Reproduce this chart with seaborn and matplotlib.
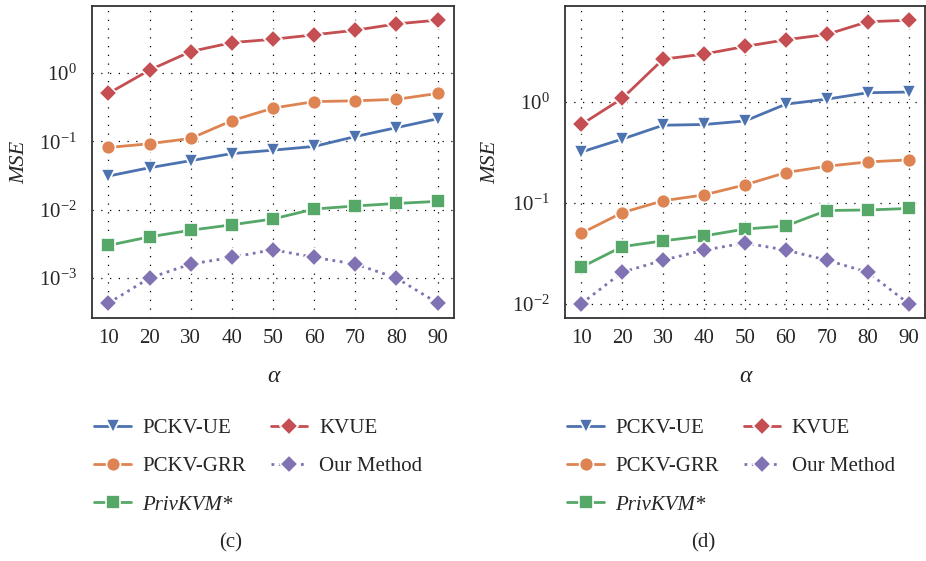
import numpy as np
import pandas as pd
import matplotlib
matplotlib.use('Agg')
import matplotlib.pyplot as plt
import seaborn as sns
from matplotlib.ticker import LogLocator, NullLocator

# alpha values on the x axis
alpha = [10, 20, 30, 40, 50, 60, 70, 80, 90]

# panel (c)
c_pckv_ue = [0.031, 0.041, 0.052, 0.066, 0.074, 0.084, 0.117, 0.158, 0.213]
c_pckv_grr = [0.081, 0.092, 0.11, 0.20, 0.305, 0.38, 0.39, 0.41, 0.50]
c_privkvm = [0.0030, 0.0040, 0.0050, 0.0060, 0.0073, 0.0102, 0.0113, 0.0123, 0.0132]
c_kvue = [0.50, 1.1, 2.05, 2.77, 3.1, 3.6, 4.2, 5.2, 5.9]
c_ours = [0.00043, 0.0010, 0.0016, 0.0020, 0.0026, 0.0020, 0.0016, 0.0010, 0.00043]

# panel (d)
d_pckv_ue = [0.32, 0.43, 0.59, 0.60, 0.65, 0.955, 1.07, 1.24, 1.26]
d_pckv_grr = [0.050, 0.080, 0.105, 0.120, 0.151, 0.20, 0.231, 0.255, 0.267]
d_privkvm = [0.023, 0.0368, 0.042, 0.047, 0.055, 0.059, 0.084, 0.085, 0.088]
d_kvue = [0.60, 1.09, 2.67, 3.0, 3.57, 4.16, 4.7, 6.28, 6.5]
d_ours = [0.010, 0.0205, 0.027, 0.034, 0.040, 0.034, 0.027, 0.0205, 0.010]

labels = ['PCKV-UE', 'PCKV-GRR', 'PrivKVM*', 'KVUE', 'Our Method']

sns.set_style('white')
plt.rcParams['font.family'] = ['Liberation Serif', 'DejaVu Serif']
plt.rcParams['mathtext.fontset'] = 'custom'
plt.rcParams['mathtext.rm'] = 'Liberation Serif'
plt.rcParams['mathtext.it'] = 'Liberation Serif:italic'

pal = sns.color_palette('deep')
styles = {
    'PCKV-UE': dict(color=pal[0], marker='v', markersize=10, linestyle='-'),
    'PCKV-GRR': dict(color=pal[1], marker='o', markersize=10, linestyle='-'),
    'PrivKVM*': dict(color=pal[2], marker='s', markersize=9.5, linestyle='-'),
    'KVUE': dict(color=pal[3], marker='D', markersize=9.5, linestyle='-'),
    'Our Method': dict(color=pal[4], marker='D', markersize=9.5, linestyle=':'),
}

W, H = 926, 561
fig = plt.figure(figsize=(W / 100, H / 100), dpi=100)
ax1 = fig.add_axes([92 / W, 1 - 318 / H, 362 / W, 312 / H])
ax2 = fig.add_axes([565 / W, 1 - 318 / H, 360 / W, 312 / H])


def draw_panel(ax, series, ylim, ylab_x):
    for name, vals in zip(labels, series):
        st = styles[name]
        sns.lineplot(x=alpha, y=vals, ax=ax, color=st['color'], marker=st['marker'],
                     markersize=st['markersize'], linestyle=st['linestyle'],
                     linewidth=2, markeredgecolor='white', markeredgewidth=1.2,
                     label=name, legend=False)
    ax.set_yscale('log')
    ax.set_ylim(*ylim)
    ax.set_xlim(6, 94)
    ax.set_xticks(alpha)
    ax.yaxis.set_major_locator(LogLocator(base=10))
    ax.yaxis.set_minor_locator(NullLocator())
    ax.grid(True, color='black', linestyle=(0, (1, 6)), linewidth=0.9)
    ax.tick_params(axis='both', labelsize=15, length=0)
    ax.tick_params(axis='x', pad=8)
    ax.tick_params(axis='y', pad=11)
    for sp in ax.spines.values():
        sp.set_color('#333333')
        sp.set_linewidth(1.3)
    ax.set_ylabel('MSE', fontsize=16, style='italic')
    ax.set_xlabel('α', fontsize=17, style='italic')
    ax.yaxis.set_label_coords(ylab_x, 0.5)
    ax.xaxis.set_label_coords(0.5, -0.154)


draw_panel(ax1, [c_pckv_ue, c_pckv_grr, c_privkvm, c_kvue, c_ours], (2.6e-4, 9.5), -0.174)
draw_panel(ax2, [d_pckv_ue, d_pckv_grr, d_privkvm, d_kvue, d_ours], (7.2e-3, 9.0), -0.18)


def add_legend(ax, x0, caption_x, caption):
    handles, labs = ax.get_legend_handles_labels()
    leg = fig.legend(handles, labs, loc='upper left', bbox_to_anchor=(x0 / W, 1 - 408 / H),
                     ncol=2, frameon=False, fontsize=15, borderpad=0, handlelength=1.75,
                     handletextpad=0.55, columnspacing=1.2, labelspacing=0.9)
    for t in leg.get_texts():
        if t.get_text() == 'PrivKVM*':
            t.set_style('italic')
    fig.text(caption_x / W, 1 - 543 / H, caption, ha='center', va='center', fontsize=15)


add_legend(ax1, 84, 231, '(c)')
add_legend(ax2, 557, 703, '(d)')

fig.savefig('out.png', dpi=100)
